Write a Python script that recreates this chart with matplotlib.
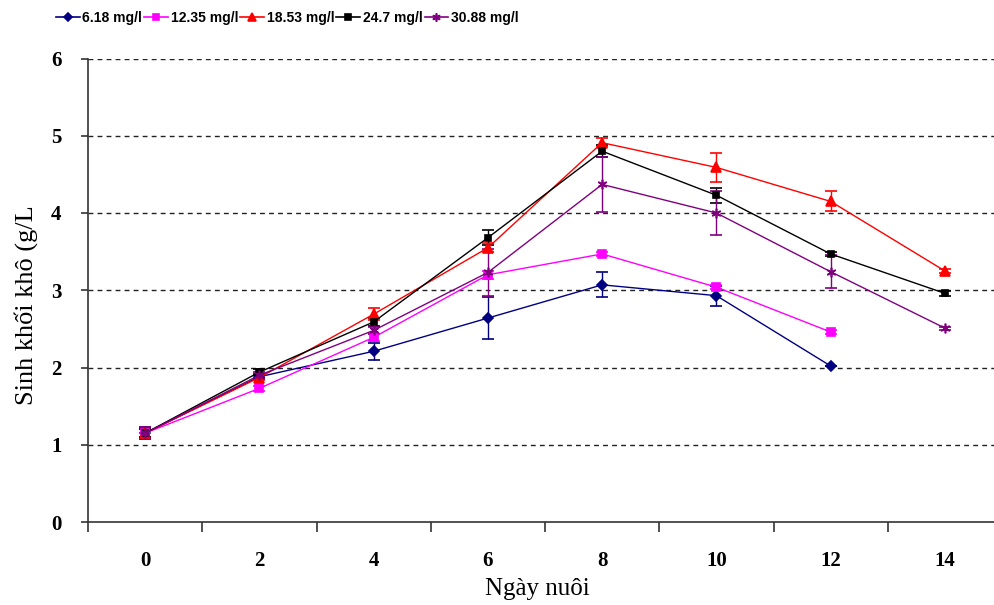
import matplotlib
matplotlib.use("Agg")
import matplotlib.pyplot as plt
from matplotlib.ticker import FixedLocator
from matplotlib.lines import Line2D
from matplotlib import font_manager

days = [0, 2, 4, 6, 8, 10, 12, 14]
series_names = ["6.18 mg/l", "12.35 mg/l", "18.53 mg/l", "24.7 mg/l", "30.88 mg/l"]

v618 = [1.15, 1.88, 2.21, 2.64, 3.07, 2.93, 2.02]
e618 = [0.08, 0.03, 0.11, 0.27, 0.16, 0.13, 0.0]
v1235 = [1.15, 1.73, 2.39, 3.20, 3.47, 3.04, 2.46]
e1235 = [0.05, 0.03, 0.05, 0.05, 0.03, 0.03, 0.03]
v1853 = [1.15, 1.87, 2.69, 3.55, 4.91, 4.59, 4.15, 3.25]
e1853 = [0.05, 0.03, 0.08, 0.06, 0.06, 0.19, 0.13, 0.03]
v247 = [1.15, 1.94, 2.59, 3.68, 4.80, 4.23, 3.47, 2.96]
e247 = [0.05, 0.04, 0.05, 0.10, 0.08, 0.10, 0.03, 0.03]
v3088 = [1.15, 1.90, 2.48, 3.23, 4.37, 4.00, 3.24, 2.51]
e3088 = [0.08, 0.04, 0.05, 0.30, 0.36, 0.28, 0.21, 0.02]

values = [v618, v1235, v1853, v247, v3088]
errors = [e618, e1235, e1853, e247, e3088]
colors = ["#000080", "#FF00FF", "#FF0000", "#000000", "#800080"]
markers = ["D", "s", "^", "s", (6, 2, 0)]
msizes = [5, 6, 7, 5, 7]

serif = ["Liberation Serif", "DejaVu Serif"]
installed = {f.name for f in font_manager.fontManager.ttflist}
if "Liberation Sans Narrow" in installed:
    leg_family, leg_size = ["Liberation Sans Narrow", "DejaVu Sans"], 12
else:
    leg_family, leg_size = ["Liberation Sans", "DejaVu Sans"], 10

fig = plt.figure(figsize=(9.94, 6.05), dpi=100)
ax = fig.add_axes([88/994, 83/605, 914/994, 463.5/605])

handles = []
for vals, errs, c, m, ms, name in zip(values, errors, colors, markers, msizes, series_names):
    x = days[:len(vals)]
    ax.errorbar(x, vals, yerr=errs, color=c, marker=m, markersize=ms,
                linewidth=1.0, elinewidth=1.0, capsize=4, capthick=1.0,
                markeredgewidth=1.2)
    handles.append(Line2D([], [], color=c, marker=m, markersize=ms - 1,
                          linewidth=1.2, markeredgewidth=1.2))

ax.set_xlim(-1, 15)
ax.set_ylim(0, 6)
ax.set_yticks([0, 1, 2, 3, 4, 5, 6])
for yv in [1, 2, 3, 4, 5, 6]:
    ax.axhline(yv, color="#222222", linestyle=(0, (3.5, 3)), linewidth=1.0, zorder=0)

ax.xaxis.set_major_locator(FixedLocator([-1, 1, 3, 5, 7, 9, 11, 13]))
ax.xaxis.set_minor_locator(FixedLocator(days))
ax.set_xticklabels([])
ax.set_xticklabels([str(d) for d in days], minor=True)
ax.tick_params(axis="x", which="major", direction="out", length=7, width=1.2, color="#333333")
ax.tick_params(axis="x", which="minor", length=0, pad=21)
ax.tick_params(axis="y", direction="out", length=5, width=1.2, color="#333333", pad=14)

for lab in ax.get_xticklabels(minor=True) + ax.get_yticklabels():
    lab.set_fontfamily(serif)
    lab.set_fontweight("bold")
    lab.set_fontsize(15)

for s in ["top", "right"]:
    ax.spines[s].set_visible(False)
for s in ["left", "bottom"]:
    ax.spines[s].set_linewidth(1.2)
    ax.spines[s].set_color("#333333")

fig.text(26/994, 1 - 305/605, "Sinh khối khô (g/L", rotation=90, ha="center", va="center",
         fontfamily=serif, fontsize=19)
fig.text(537/994, 1 - 589/605, "Ngày nuôi", ha="center", va="center",
         fontfamily=serif, fontsize=18)

fig.legend(handles=handles, labels=series_names, loc="center left",
           bbox_to_anchor=(56/994, 1 - 18/605), ncol=5, frameon=False,
           prop={"family": leg_family, "weight": "bold", "size": leg_size},
           handlelength=1.7, handletextpad=0.2, columnspacing=0.15,
           borderaxespad=0, borderpad=0)

fig.savefig("out.png", dpi=100)
